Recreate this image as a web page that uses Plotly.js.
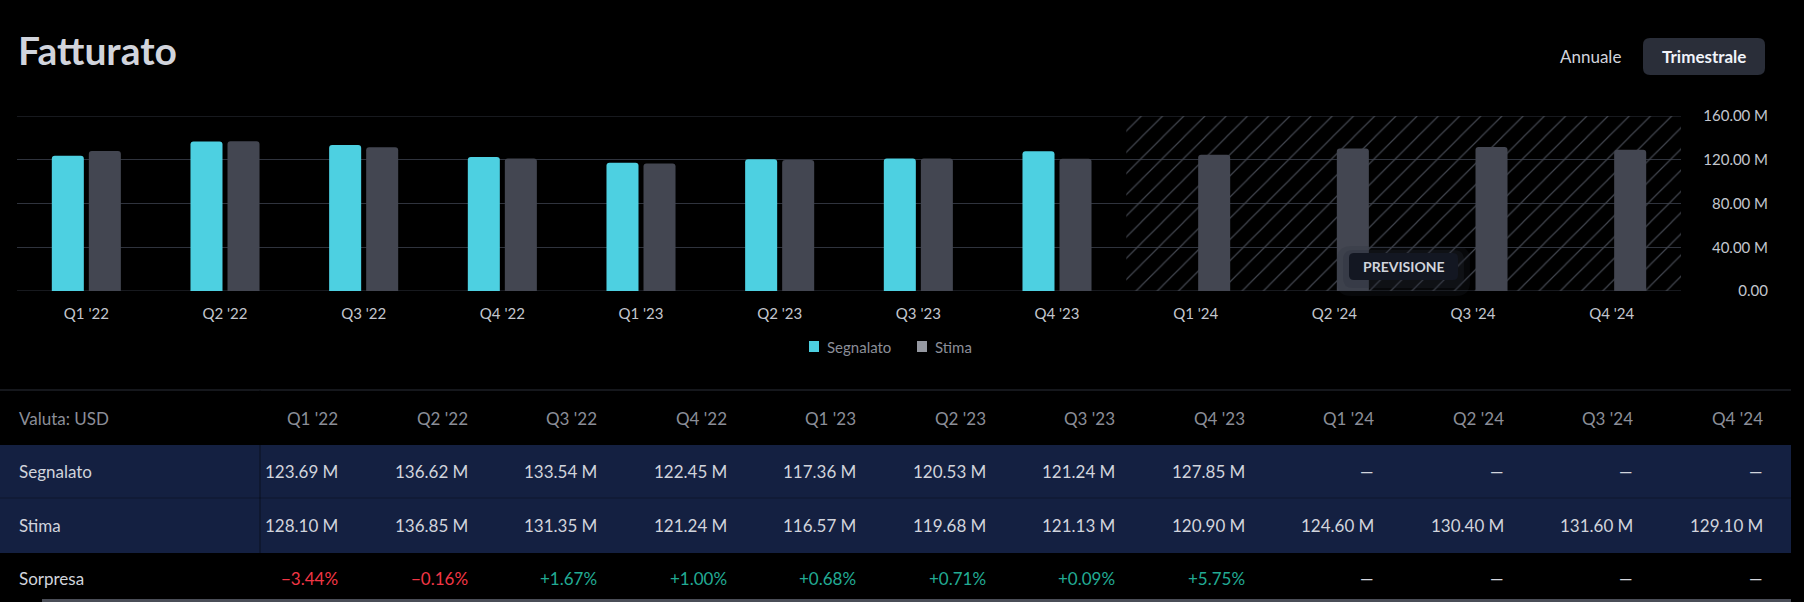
<!DOCTYPE html>
<html>
<head>
<meta charset="utf-8">
<script src="https://cdn.plot.ly/plotly-3.0.1.min.js"></script>
<style>
  html, body { margin: 0; padding: 0; background: #000000; }
  #chart { width: 1804px; height: 602px; }
</style>
</head>
<body>
<div id="chart"></div>
<script>
// ---------- data ----------
const categories = ["Q1 '22", "Q2 '22", "Q3 '22", "Q4 '22", "Q1 '23", "Q2 '23", "Q3 '23", "Q4 '23", "Q1 '24", "Q2 '24", "Q3 '24", "Q4 '24"];
const segnalato = [123.69, 136.62, 133.54, 122.45, 117.36, 120.53, 121.24, 127.85, null, null, null, null];
const stima = [128.10, 136.85, 131.35, 121.24, 116.57, 119.68, 121.13, 120.90, 124.60, 130.40, 131.60, 129.10];
const sorpresa = [-3.44, -0.16, 1.67, 1.00, 0.68, 0.71, 0.09, 5.75, null, null, null, null];
const seriesNames = ["Segnalato", "Stima", "Sorpresa"];
const yTickVals = [0, 40, 80, 120, 160];
const yTickText = ["0.00", "40.00\u202FM", "80.00\u202FM", "120.00\u202FM", "160.00\u202FM"];
const chartTitle = "Fatturato";
const buttonLabels = ["Annuale", "Trimestrale"];
const currencyLabel = "Valuta: USD";
const forecastLabel = "PREVISIONE";

// ---------- geometry helpers ----------
const W = 1804, H = 602, ML = 17, MR = 36, MT = 116, MB = 311;
const PW = W - ML - MR, PH = H - MT - MB;
const X = x => (x - ML) / PW;
const Y = y => (H - MB - y) / PH;
const FONT = "Lato, 'DejaVu Sans', sans-serif";
const YMAX = yTickVals[yTickVals.length - 1];

function rr(x0, y0, x1, y1, r) {
  const p = (x, y) => X(x).toFixed(5) + "," + Y(y).toFixed(5);
  return "M" + p(x0 + r, y0) + " L" + p(x1 - r, y0) + " Q" + p(x1, y0) + " " + p(x1, y0 + r) +
    " L" + p(x1, y1 - r) + " Q" + p(x1, y1) + " " + p(x1 - r, y1) +
    " L" + p(x0 + r, y1) + " Q" + p(x0, y1) + " " + p(x0, y1 - r) +
    " L" + p(x0, y0 + r) + " Q" + p(x0, y0) + " " + p(x0 + r, y0) + " Z";
}
function rect(x0, y0, x1, y1, color) {
  return {type: "rect", xref: "paper", yref: "paper", x0: X(x0), x1: X(x1), y0: Y(y1), y1: Y(y0),
    fillcolor: color, line: {width: 0}, layer: "above"};
}
function lineShape(x0, y0, x1, y1, color, w) {
  return {type: "line", xref: "paper", yref: "paper", x0: X(x0), x1: X(x1), y0: Y(y0), y1: Y(y1),
    line: {color: color, width: w}, layer: "above"};
}
function txt(x, y, text, opts) {
  return Object.assign({xref: "paper", yref: "paper", x: X(x), y: Y(y), text: text, showarrow: false,
    xanchor: "right", yanchor: "middle", font: {family: FONT, size: 17, color: "#d1d4dc"}}, opts || {});
}

// ---------- traces ----------
const firstForecast = segnalato.findIndex(v => v === null);
const nForecast = categories.length - firstForecast;

const hatch = {
  type: "bar", x: [categories[firstForecast]], y: [YMAX],
  offset: -0.5, width: [nForecast], offsetgroup: "a",
  marker: {color: "rgba(0,0,0,0)", line: {width: 0},
    pattern: {shape: "/", fgcolor: "#42464f", bgcolor: "rgba(0,0,0,0)", size: 15, solidity: 0.08}},
  hoverinfo: "skip", showlegend: false
};
const trReported = {
  type: "bar", name: seriesNames[0], x: categories, y: segnalato, offsetgroup: "a",
  marker: {color: "#4dd0e1", cornerradius: 3, line: {width: 0}}, showlegend: false
};
const trEstimate = {
  type: "bar", name: seriesNames[1], x: categories, y: stima, offsetgroup: "b",
  marker: {color: "#434651", cornerradius: 3, line: {width: 0}}, showlegend: false
};
// invisible helper so the right-hand value axis (y2) is drawn
const axisHelper = {
  type: "scatter", mode: "markers", x: categories, y: stima, yaxis: "y2",
  marker: {opacity: 0, size: 1}, hoverinfo: "skip", showlegend: false
};

// ---------- decorations ----------
const shapes = [];
const annotations = [];

// gridlines at the range ends (Plotly omits them at the edges)
[0, YMAX].forEach(v => shapes.push({type: "line", xref: "x domain", yref: "y", x0: 0, x1: 1, y0: v, y1: v,
  line: {color: "#2f333d", width: 1}, layer: "below"}));

// title & buttons
annotations.push(txt(16, 50, "<b>" + chartTitle + "</b>", {xanchor: "left",
  font: {family: FONT, size: 39, color: "#d1d4dc"}}));
annotations.push(txt(1590, 57, buttonLabels[0], {xanchor: "center",
  font: {family: FONT, size: 17, color: "#d1d4dc"}}));
shapes.push({type: "path", xref: "paper", yref: "paper", path: rr(1643, 38, 1765, 75, 7),
  fillcolor: "#2a2e39", line: {width: 0}, layer: "above"});
annotations.push(txt(1704, 57, "<b>" + buttonLabels[1] + "</b>", {xanchor: "center",
  font: {family: FONT, size: 17, color: "#f0f3fa"}}));

// forecast badge with soft glow
shapes.push({type: "path", xref: "paper", yref: "paper", path: rr(1337, 246, 1470, 296, 14),
  fillcolor: "rgba(40,44,56,0.18)", line: {width: 0}, layer: "above"});
shapes.push({type: "path", xref: "paper", yref: "paper", path: rr(1343, 250, 1464, 288, 10),
  fillcolor: "rgba(40,44,56,0.25)", line: {width: 0}, layer: "above"});
shapes.push({type: "path", xref: "paper", yref: "paper", path: rr(1349, 253, 1458, 280, 5),
  fillcolor: "#131722", line: {width: 0}, layer: "above"});
annotations.push(txt(1403.5, 266.5, "<b>" + forecastLabel + "</b>", {xanchor: "center",
  font: {family: FONT, size: 14, color: "#d1d4dc"}}));

// legend (manual)
const legendItems = [{name: seriesNames[0], color: "#4dd0e1", x: 809}, {name: seriesNames[1], color: "#9598a1", x: 917}];
legendItems.forEach(it => {
  shapes.push(rect(it.x, 341, it.x + 10, 352, it.color));
  annotations.push(txt(it.x + 16, 346.5, it.name, {xanchor: "left",
    font: {family: FONT, size: 15, color: "#8b8e98"}}));
});

// table
const TR = 1791;
shapes.push(rect(0, 445, TR, 553, "#142041"));
shapes.push(lineShape(0, 498, TR, 498, "#101a34", 1.5));
shapes.push(lineShape(0, 390, TR, 390, "#2a2e39", 1));
shapes.push(lineShape(260, 390, 260, 600, "rgba(0,0,0,0.25)", 2));
shapes.push(rect(42, 599, TR, 602, "#4a4d57"));

const rowY = {head: 418, rep: 471, est: 525, sur: 578};
annotations.push(txt(17, rowY.head, currencyLabel, {xanchor: "left",
  font: {family: FONT, size: 17, color: "#8b8e98"}}));
annotations.push(txt(17, rowY.rep, seriesNames[0], {xanchor: "left"}));
annotations.push(txt(17, rowY.est, seriesNames[1], {xanchor: "left"}));
annotations.push(txt(17, rowY.sur, seriesNames[2], {xanchor: "left"}));

const fmtM = v => v === null ? "\u2014" : v.toFixed(2) + "\u202FM";
const fmtP = v => v === null ? "\u2014" : (v < 0 ? "\u2212" + Math.abs(v).toFixed(2) : "+" + v.toFixed(2)) + "%";
categories.forEach((c, i) => {
  const xr = 340 + 129.5 * i;
  annotations.push(txt(xr, rowY.head, c, {font: {family: FONT, size: 17, color: "#8b8e98"}}));
  annotations.push(txt(xr, rowY.rep, fmtM(segnalato[i])));
  annotations.push(txt(xr, rowY.est, fmtM(stima[i])));
  const s = sorpresa[i];
  const col = s === null ? "#d1d4dc" : (s < 0 ? "#f23645" : "#22ab94");
  annotations.push(txt(xr, rowY.sur, fmtP(s), {font: {family: FONT, size: 17, color: col}}));
});

// ---------- layout ----------
const layout = {
  width: W, height: H,
  margin: {l: ML, r: MR, t: MT, b: MB, pad: 0},
  paper_bgcolor: "#000000", plot_bgcolor: "#000000",
  barmode: "group", bargap: 0.466, bargroupgap: 0.135,
  showlegend: false,
  font: {family: FONT, color: "#c3c6ce"},
  xaxis: {
    type: "category", categoryorder: "array", categoryarray: categories,
    domain: [0, (1681 - ML) / PW], range: [-0.5, categories.length - 0.5],
    showgrid: false, zeroline: false, showline: false, ticks: "", ticklabelstandoff: 12,
    tickfont: {family: FONT, size: 15, color: "#c3c6ce"}, fixedrange: true
  },
  yaxis: {
    range: [0, YMAX], tickvals: yTickVals, showticklabels: false, side: "right",
    showgrid: true, gridcolor: "#2f333d", gridwidth: 1, zeroline: false, showline: false, ticks: "",
    fixedrange: true
  },
  yaxis2: {
    overlaying: "y", anchor: "free", position: 1, side: "left",
    range: [0, YMAX], tickvals: yTickVals, ticktext: yTickText, showgrid: false, zeroline: false,
    showline: false, ticks: "", tickfont: {family: FONT, size: 15, color: "#c3c6ce"}, fixedrange: true
  },
  shapes: shapes,
  annotations: annotations
};

Plotly.newPlot("chart", [hatch, trReported, trEstimate, axisHelper], layout, {displayModeBar: false, staticPlot: true});
</script>
</body>
</html>
